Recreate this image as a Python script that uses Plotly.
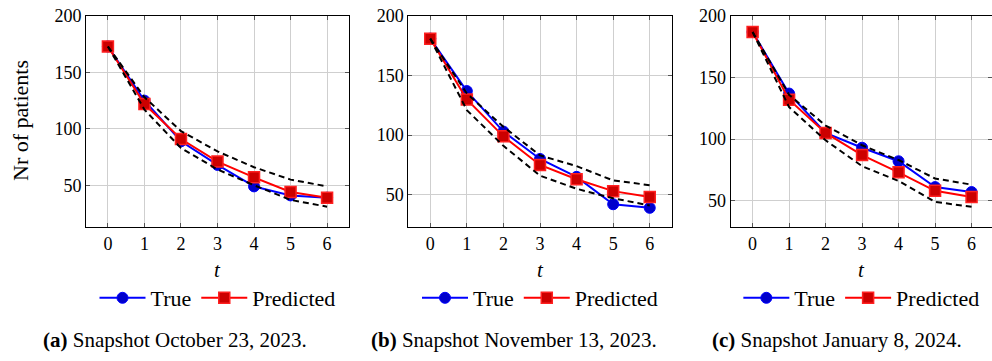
import plotly.graph_objects as go

# Time steps and patient counts for three snapshots
t = [0, 1, 2, 3, 4, 5, 6]

true_a = [173, 125, 89, 68, 49, 41, 39]
pred_a = [173, 122, 91, 71, 57, 44, 39]
upper_a = [173, 128, 98, 80, 66, 55, 49]
lower_a = [173, 117, 83, 64, 50, 37, 31]

true_b = [181, 137, 103, 80, 65, 42, 39]
pred_b = [181, 130, 99, 75, 63, 53, 48]
upper_b = [181, 135, 107, 83, 74, 62, 58]
lower_b = [181, 121, 91, 66, 55, 47, 41]

true_c = [187, 137, 105, 93, 82, 61, 57]
pred_c = [187, 132, 105, 87, 73, 58, 53]
upper_c = [187, 136, 111, 95, 83, 68, 63]
lower_c = [187, 126, 99, 78, 66, 49, 45]

captions = ["<b>(a)</b> Snapshot October 23, 2023.",
            "<b>(b)</b> Snapshot November 13, 2023.",
            "<b>(c)</b> Snapshot January 8, 2024."]
y_ticks = [50, 100, 150, 200]

W, H = 992, 361
FONT = "Liberation Serif"

panels = [
    dict(true=true_a, pred=pred_a, up=upper_a, lo=lower_a,
         px=(86, 349), xr=[-0.6, 6.6], yr=[13, 200], cap_x=175),
    dict(true=true_b, pred=pred_b, up=upper_b, lo=lower_b,
         px=(408.3, 671.7), xr=[-0.6, 6.6], yr=[22.9, 200], cap_x=514),
    dict(true=true_c, pred=pred_c, up=upper_c, lo=lower_c,
         px=(730.7, 992), xr=[-0.6, 6.56], yr=[28.6, 200], cap_x=837),
]

top_px, bot_px = 16, 227
fig = go.Figure()
annotations = []
layout = {}

for i, p in enumerate(panels):
    n = "" if i == 0 else str(i + 1)
    xa, ya = "x" + n, "y" + n
    leg = "legend" + n
    fig.add_trace(go.Scatter(
        x=t, y=p["true"], mode="lines+markers", name="True",
        line=dict(color="#0000ff", width=2),
        marker=dict(symbol="circle", size=11, color="#0000cc",
                    line=dict(color="#0000ff", width=1)),
        xaxis=xa, yaxis=ya, legend=leg))
    fig.add_trace(go.Scatter(
        x=t, y=p["pred"], mode="lines+markers", name="Predicted",
        line=dict(color="#ff0000", width=2),
        marker=dict(symbol="square", size=11, color="#cc0000",
                    line=dict(color="#ff2020", width=1.5)),
        xaxis=xa, yaxis=ya, legend=leg))
    for band in (p["up"], p["lo"]):
        fig.add_trace(go.Scatter(
            x=t, y=band, mode="lines", showlegend=False,
            line=dict(color="black", width=2, dash="6px,4px"),
            xaxis=xa, yaxis=ya))

    x0, x1 = p["px"]
    common = dict(showline=True, linecolor="black", linewidth=1,
                  mirror="ticks", ticks="inside", ticklen=4,
                  tickcolor="#555555", showgrid=True,
                  gridcolor="#cfcfcf", gridwidth=1, zeroline=False,
                  automargin=False,
                  tickfont=dict(family=FONT, size=18, color="black"))
    layout["xaxis" + n] = dict(
        domain=[x0 / W, x1 / W], range=p["xr"], anchor=ya,
        tickvals=t, **common)
    layout["yaxis" + n] = dict(
        domain=[1 - bot_px / H, 1 - top_px / H], range=p["yr"],
        anchor=xa, tickvals=y_ticks, **common)
    layout[leg] = dict(
        orientation="h", x=(x0 + x1) / 2 / W, xanchor="center",
        y=1 - 298 / H, yanchor="middle", bgcolor="rgba(0,0,0,0)",
        font=dict(family=FONT, size=22, color="black"),
        itemwidth=46, tracegroupgap=0)

    annotations.append(dict(
        text="<i>t</i>", x=(x0 + x1) / 2 / W, y=1 - 270 / H,
        xref="paper", yref="paper", showarrow=False,
        xanchor="center", yanchor="middle",
        font=dict(family=FONT, size=21, color="black")))
    annotations.append(dict(
        text=captions[i], x=p["cap_x"] / W, y=1 - 340 / H,
        xref="paper", yref="paper", showarrow=False,
        xanchor="center", yanchor="middle",
        font=dict(family=FONT, size=21, color="black")))

annotations.append(dict(
    text="Nr of patients", x=20 / W, y=1 - 121 / H, textangle=-90,
    xref="paper", yref="paper", showarrow=False,
    xanchor="center", yanchor="middle",
    font=dict(family=FONT, size=22, color="black")))

fig.update_layout(
    width=W, height=H,
    margin=dict(l=0, r=0, t=0, b=0, pad=0, autoexpand=False),
    font=dict(family=FONT, size=18, color="black"),
    paper_bgcolor="white", plot_bgcolor="white",
    annotations=annotations, **layout)

fig.write_html("out.html")
